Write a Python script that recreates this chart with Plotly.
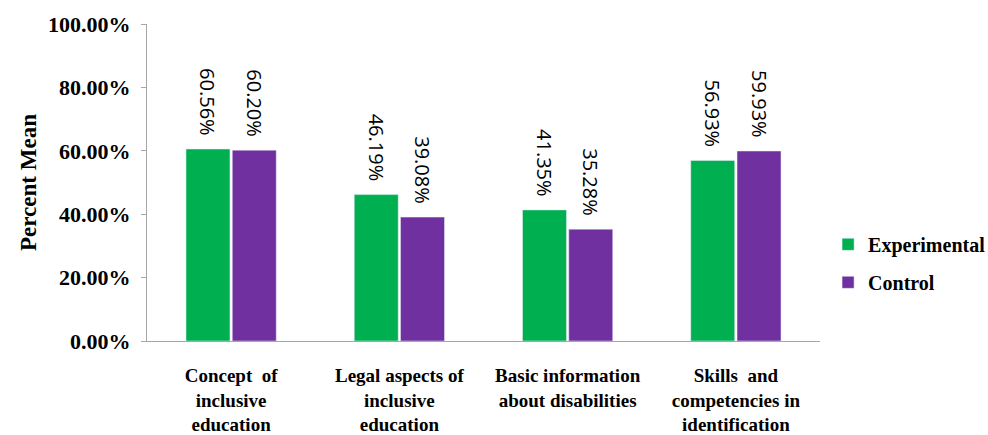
import plotly.graph_objects as go

categories = ["Concept  of<br>inclusive<br>education",
              "Legal aspects of<br>inclusive<br>education",
              "Basic information<br>about disabilities",
              "Skills  and<br>competencies in<br>identification"]
experimental = [60.56, 46.19, 41.35, 56.93]
control = [60.20, 39.08, 35.28, 59.93]
y_ticks = [0, 20, 40, 60, 80, 100]
y_tick_labels = ["0.00%", "20.00%", "40.00%", "60.00%", "80.00%", "100.00%"]

serif = "Liberation Serif"
label_font = dict(family="Open Sans", size=20, color="black")

fig = go.Figure()
fig.add_trace(go.Bar(name="Experimental", x=categories, y=experimental,
                     marker_color="#00B050", legendgroup="exp",
                     text=[f"{v:.2f}%\u00a0\u00a0" for v in experimental],
                     textposition="outside", textangle=90, constraintext="none",
                     textfont=label_font, cliponaxis=False))
fig.add_trace(go.Bar(name="Control", x=categories, y=control,
                     marker_color="#7030A0", legendgroup="ctl",
                     text=[f"{v:.2f}%\u00a0\u00a0" for v in control],
                     textposition="outside", textangle=90, constraintext="none",
                     textfont=label_font, cliponaxis=False))

fig.update_layout(
    width=988, height=435,
    margin=dict(l=147, r=168, t=24, b=94, autoexpand=False),
    paper_bgcolor="white", plot_bgcolor="white",
    barmode="group", bargap=0.45, bargroupgap=0.05,
    font=dict(family=serif, color="black"),
    legend=dict(x=1.012, y=0.245, xanchor="left", yanchor="middle",
                traceorder="grouped",
                font=dict(family=serif, size=20, color="black", weight="bold"),
                itemwidth=30, tracegroupgap=9),
    showlegend=True,
)
fig.update_yaxes(range=[0, 100], tickvals=y_ticks, ticktext=y_tick_labels,
                 automargin=False,
                 showgrid=False, showline=True, linecolor="#A6A6A6", linewidth=1,
                 ticks="outside", ticklen=5, tickcolor="#A6A6A6", ticklabelstandoff=6,
                 tickfont=dict(family=serif, size=22, color="black", weight="bold"),
                 title=dict(text="Percent Mean", standoff=5,
                            font=dict(family=serif, size=23, color="black", weight="bold")))
fig.update_xaxes(showgrid=False, showline=True, linecolor="#A6A6A6", linewidth=1,
                 automargin=False,
                 ticks="", ticklabelstandoff=17,
                 tickfont=dict(family=serif, size=19, color="black", weight="bold"))

fig.write_html("out.html")
